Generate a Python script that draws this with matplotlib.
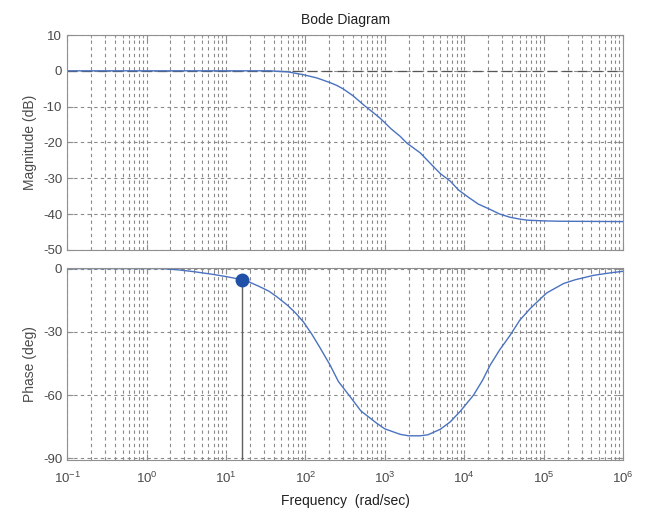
import matplotlib
matplotlib.use('Agg')
import matplotlib.pyplot as plt
import numpy as np

plt.rcParams['font.family'] = ['Liberation Sans', 'DejaVu Sans']
plt.rcParams['mathtext.default'] = 'regular'
plt.rcParams['axes.unicode_minus'] = False

# values
mag_freq = [0.1, 1, 10, 36, 60, 95, 140, 205, 250, 302, 400, 540, 700, 871, 1200,
            1563, 1900, 2790, 4000, 5000, 6670, 8500, 10800, 15000, 21200, 28000,
            37900, 50000, 61600, 1.0e5, 1.6e5, 1e6]
mag_db = [0, 0, 0, 0, -0.3, -1.1, -2.0, -3.3, -4.1, -5.1, -7.0, -9.5, -11.5, -13.2, -16.2,
          -18.3, -20.2, -22.9, -26.5, -28.7, -30.8, -33.3, -35.0, -37.2, -38.7, -40.0,
          -40.9, -41.4, -41.7, -41.9, -42.0, -42.1]

ph_freq = [0.1, 1, 1.5, 2.5, 4, 7, 10, 15.8, 20, 27, 35, 43.8, 60, 75, 94.6, 120, 150,
           205, 260, 367, 500, 795, 1000, 1563, 2000, 2790, 3500, 5000, 6670, 9000,
           13100, 17000, 21200, 28000, 37900, 50000, 67600, 90000, 1.1e5, 1.78e5,
           2.5e5, 4.27e5, 7e5, 1e6]
ph_deg = [0, 0, 0, -0.6, -1.5, -2.8, -3.8, -5.2, -6.5, -8.7, -10.8, -13.4, -17.5, -21.0,
          -25.3, -31.0, -37.0, -45.8, -53.5, -60.8, -67.5, -73.4, -76.0, -78.6, -79.3,
          -79.3, -78.8, -76.2, -72.7, -67.5, -60.0, -53.0, -45.8, -38.5, -31.6, -24.5,
          -19.0, -14.5, -11.5, -7.1, -5.3, -3.2, -2.0, -1.3]

marker_freq = 15.8
marker_phase = -5.2

line_col = '#4a72c0'
grid_col = '#8a8a8a'
text_col = '#4a4a4a'

fig = plt.figure(figsize=(6.45, 5.11), dpi=100)
ax1 = fig.add_axes([0.104, 0.511, 0.862, 0.4205])
ax2 = fig.add_axes([0.104, 0.1005, 0.862, 0.376])

for ax in (ax1, ax2):
    ax.set_xscale('log')
    ax.set_xlim(0.1, 1e6)
    ax.grid(True, which='major', color=grid_col, linestyle=(0, (3, 3)), linewidth=0.8)
    ax.grid(True, which='minor', axis='x', color=grid_col, linestyle=(0, (3, 3)), linewidth=0.8)
    for s in ax.spines.values():
        s.set_color('#909090')
    ax.tick_params(which='both', direction='in', top=True, right=True, colors='#909090',
                   labelcolor=text_col, labelsize=9.5)
    ax.tick_params(which='major', length=4)
    ax.tick_params(which='minor', length=2)
    ax.tick_params(axis='x', pad=8)
    ax.set_xticks([10.0 ** k for k in range(-1, 7)])

ax1.axhline(0, color='#555555', linestyle=(0, (8, 4)), linewidth=0.9)
ax1.plot(mag_freq, mag_db, color=line_col, linewidth=1.0)
ax1.set_ylim(-50, 10)
ax1.set_yticks([10, 0, -10, -20, -30, -40, -50])
ax1.tick_params(labelbottom=False)
ax1.set_ylabel('Magnitude (dB)', color=text_col, fontsize=10)
ax1.set_title('Bode Diagram', color='#202020', fontsize=10, pad=8)

ax2.plot(ph_freq, ph_deg, color=line_col, linewidth=1.0)
ax2.plot([marker_freq, marker_freq], [marker_phase, -90.6], color='#606060', linewidth=1.0)
ax2.plot([marker_freq], [marker_phase], 'o', color='#2150a8', markersize=9)
ax2.set_ylim(-90.6, 0.5)
ax2.set_yticks([0, -30, -60, -90])
ax2.set_ylabel('Phase (deg)', color=text_col, fontsize=10)
ax2.set_xlabel('Frequency  (rad/sec)', color='#202020', fontsize=10, labelpad=6)

fig.align_ylabels([ax1, ax2])
fig.savefig('out.png', dpi=100)
